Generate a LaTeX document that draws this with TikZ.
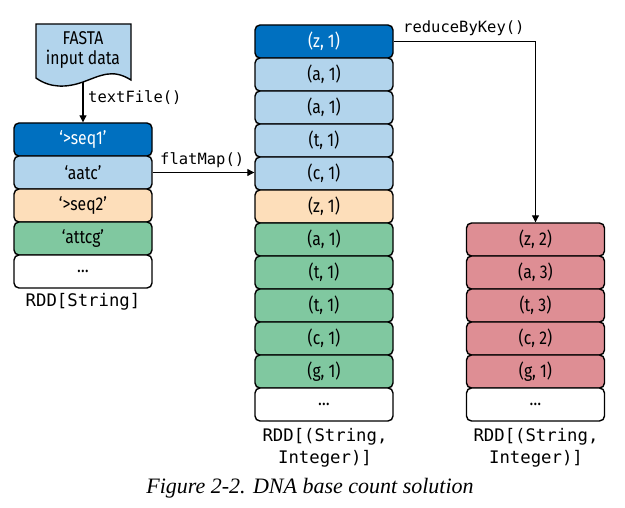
\documentclass[tikz,border=0pt]{standalone}
\usepackage{fontspec}
\usetikzlibrary{arrows.meta,positioning,calc}
\newfontfamily\boxfont[FakeStretch=0.85]{Fira Sans}
\newfontfamily\capfont{Liberation Serif}
\setmonofont{DejaVu Sans Mono}
\definecolor{rdddark}{RGB}{0,112,192}
\definecolor{rddlight}{RGB}{178,212,236}
\definecolor{rddpeach}{RGB}{253,222,186}
\definecolor{rddgreen}{RGB}{128,200,160}
\definecolor{rddred}{RGB}{222,142,148}

\begin{document}
\begin{tikzpicture}[
    x=1pt,y=-1pt,
    cell/.style={draw, line width=1.4pt, rounded corners=5pt, minimum width=138pt,
      minimum height=33pt, inner sep=0pt, font=\boxfont\fontsize{18.5}{20}\selectfont},
    op/.style={font=\ttfamily\fontsize{15.5}{17}\selectfont, inner sep=0pt},
    type/.style={font=\ttfamily\fontsize{17.3}{22}\selectfont, align=center, inner sep=0pt},
    flow/.style={draw, line width=1.1pt, -{Triangle[length=7pt,width=7pt]}}
  ]
  \useasboundingbox (0,0) rectangle (625,508);

  % input file
  \draw[line width=1.4pt, fill=rddlight] (36,24) -- (131,24) -- (131,80)
    .. controls (112,68) and (100,76) .. (83,82)
    .. controls (66,88) and (50,88) .. (36,78) -- cycle;
  \node[font=\boxfont\fontsize{18.5}{20}\selectfont, align=center] (fasta) at (83,50) {FASTA\\input data};
  \coordinate (docbot) at (83,82);

  % RDD[String]
  \foreach \fc/\tc/\txt [count=\i] in {rdddark/white/{‘>seq1’}, rddlight/black/{‘aatc’},
      rddpeach/black/{‘>seq2’}, rddgreen/black/{‘attcg’}, white/black/{…}}
    \node[cell, fill=\fc, text=\tc] (l\i) at (83,{139.5+33*(\i-1)}) {\txt};
  \node[type] (tl) at (83,302) {RDD[String]};

  % RDD[(String, Integer)] after flatMap
  \foreach \fc/\tc/\txt [count=\i] in {rdddark/white/{(z, 1)}, rddlight/black/{(a, 1)},
      rddlight/black/{(a, 1)}, rddlight/black/{(t, 1)}, rddlight/black/{(c, 1)},
      rddpeach/black/{(z, 1)}, rddgreen/black/{(a, 1)}, rddgreen/black/{(t, 1)},
      rddgreen/black/{(t, 1)}, rddgreen/black/{(c, 1)}, rddgreen/black/{(g, 1)},
      white/black/{…}}
    \node[cell, fill=\fc, text=\tc] (m\i) at (324,{41.5+33*(\i-1)}) {\txt};
  \node[type] (tm) at (325,448) {RDD[(String,\\Integer)]};

  % reduced RDD
  \foreach \fc/\txt [count=\i] in {rddred/{(z, 2)}, rddred/{(a, 3)}, rddred/{(t, 3)},
      rddred/{(c, 2)}, rddred/{(g, 1)}, white/{…}}
    \node[cell, fill=\fc] (r\i) at (535.5,{239.5+33*(\i-1)}) {\txt};
  \node[type] (tr) at (536,448) {RDD[(String,\\Integer)]};

  % transformations
  \draw[flow] (docbot) -- (l1.north);
  \node[op, anchor=west] (optext) at (88,98) {textFile()};
  \draw[flow] (l2.east) -- (l2.east -| m5.west);
  \node[op, anchor=west] (opflat) at (160,160) {flatMap()};
  \draw[flow] (m1.east) -| (r1.north);
  \node[op, anchor=west] (opreduce) at (403,28) {reduceByKey()};

  \node[font=\capfont\itshape\fontsize{22}{24}\selectfont] (caption) at (310,488) {Figure 2-2. DNA base count solution};
\end{tikzpicture}
\end{document}
